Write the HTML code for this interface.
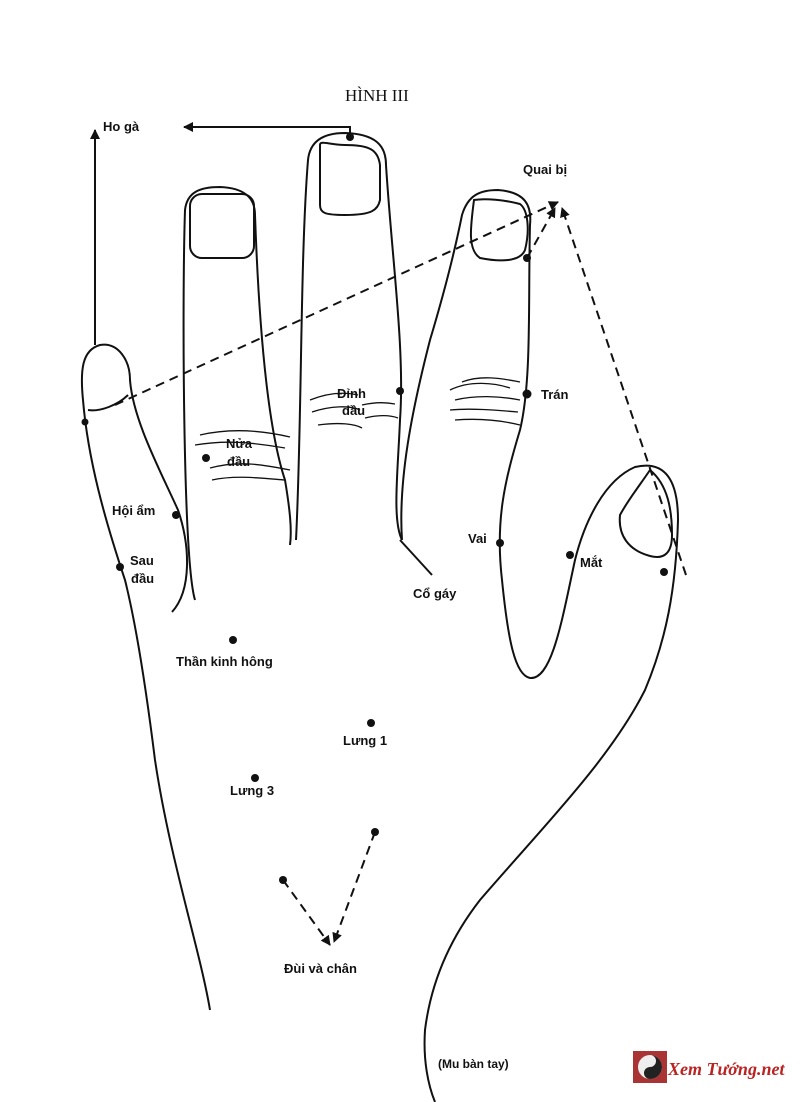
<!DOCTYPE html>
<html><head><meta charset="utf-8"><style>
body{margin:0;background:#fff}
svg{display:block}
text{font-family:"Liberation Sans",sans-serif;font-weight:bold;font-size:13px;fill:#111}
</style></head><body>
<svg width="800" height="1102" viewBox="0 0 800 1102" xmlns="http://www.w3.org/2000/svg">
<defs><marker id="a" markerWidth="10" markerHeight="10" refX="9" refY="5" orient="auto" markerUnits="userSpaceOnUse"><path d="M0,0 L10,5 L0,10 z" fill="#111"/></marker></defs>
<text x="345" y="101" style="font-family:'Liberation Serif',serif;font-size:17px;font-weight:normal">HÌNH III</text>
<g fill="none" stroke="#111" stroke-width="2">
<!-- left finger + left palm -->
<path d="M210,1010 C200,950 170,860 155,760 C145,680 135,620 125,580 C105,520 88,460 83,400 C80,370 82,350 100,345 C118,342 130,360 130,380 C133,420 160,470 178,510 C190,545 192,590 172,612"/>
<path d="M88,410 C100,412 118,405 128,395"/>
<!-- finger 2 -->
<path d="M195,600 C183,560 182,300 185,210 C187,192 200,187 220,187 C245,188 255,198 255,215 C258,300 265,420 285,480 C290,510 292,530 290,545"/>
<rect x="190" y="194" width="64" height="64" rx="12"/>
<!-- finger 3 -->
<path d="M296,540 C302,420 300,260 308,160 C310,140 325,133 345,133 C375,134 386,145 386,165 C392,260 405,350 400,420 C398,470 392,520 402,540"/>
<path d="M320,145 L320,205 C320,213 325,215 345,215 C372,215 378,210 380,200 L380,165 C378,150 370,145 345,145 C330,145 320,140 320,145 z"/>
<line x1="400" y1="540" x2="432" y2="575"/>
<!-- finger 4 + pinky + right thumb -->
<path d="M402,540 C398,480 412,410 430,340 C445,290 455,250 462,215 C468,195 480,190 498,190 C525,192 532,205 530,225 C528,300 532,380 520,430 C505,480 495,520 502,580 C508,640 515,675 530,678 C552,680 562,620 575,560 C585,520 605,480 635,467 C665,460 678,480 678,520 C676,590 666,640 645,690 C610,760 540,830 480,900 C445,945 430,990 425,1030 C423,1060 428,1085 435,1102"/>
<path d="M474,200 C470,230 468,250 480,258 C500,262 520,262 525,250 C530,230 528,210 520,204 C505,200 485,198 474,200 z"/>
<path d="M650,470 C640,485 628,500 620,515 C618,535 628,550 650,556 C665,560 672,552 672,535 C672,510 668,485 650,470 z"/>
</g>
<!-- creases -->
<g fill="none" stroke="#111" stroke-width="1.3">
<path d="M200,435 C230,428 260,430 290,437"/><path d="M195,445 C225,440 250,442 285,448"/><path d="M210,468 C240,460 265,465 290,470"/><path d="M212,480 C235,475 260,478 285,480"/>
<path d="M310,400 C330,392 345,392 358,395"/><path d="M312,412 C330,406 350,405 360,410"/><path d="M318,425 C340,422 355,424 362,428"/><path d="M362,405 C375,402 385,402 395,404"/><path d="M365,418 C378,415 390,415 398,418"/>
<path d="M450,390 C470,380 495,383 510,388"/><path d="M455,400 C475,395 500,396 520,400"/><path d="M450,410 C470,408 495,410 518,412"/><path d="M455,420 C480,418 500,420 520,425"/><path d="M462,382 C480,375 500,378 520,382"/>
</g>
<!-- solid arrows -->
<g stroke="#111" stroke-width="2" fill="none">
<path d="M350,137 L350,127 L184,127" marker-end="url(#a)"/>
<path d="M95,345 L95,130" marker-end="url(#a)"/>
</g>
<!-- dashed -->
<g stroke="#111" stroke-width="2" fill="none" stroke-dasharray="9,6">
<path d="M115,405 L558,202" marker-end="url(#a)"/>
<path d="M527,258 L555,208" marker-end="url(#a)"/>
<path d="M686,575 L562,208" marker-end="url(#a)"/>
<path d="M283,880 L330,945" marker-end="url(#a)"/>
<path d="M375,832 L334,942" marker-end="url(#a)"/>
</g>
<g fill="#111">
<circle cx="350" cy="137" r="4"/><circle cx="527" cy="258" r="4"/><circle cx="85" cy="422" r="3.5"/><circle cx="206" cy="458" r="4"/><circle cx="400" cy="391" r="4"/><circle cx="527" cy="394" r="4.5"/><circle cx="176" cy="515" r="4"/><circle cx="120" cy="567" r="4"/><circle cx="500" cy="543" r="4"/><circle cx="570" cy="555" r="4"/><circle cx="664" cy="572" r="4"/><circle cx="233" cy="640" r="4"/><circle cx="371" cy="723" r="4"/><circle cx="255" cy="778" r="4"/><circle cx="283" cy="880" r="4"/><circle cx="375" cy="832" r="4"/>
</g>
<text x="103" y="131">Ho gà</text>
<text x="523" y="174">Quai bị</text>
<text x="337" y="398">Đỉnh</text><text x="342" y="415">đầu</text>
<text x="541" y="399">Trán</text>
<text x="226" y="448">Nửa</text><text x="227" y="466">đầu</text>
<text x="112" y="515">Hội ẩm</text>
<text x="130" y="565">Sau</text><text x="131" y="583">đầu</text>
<text x="468" y="543">Vai</text>
<text x="580" y="567">Mắt</text>
<text x="413" y="598">Cổ gáy</text>
<text x="176" y="666">Thần kinh hông</text>
<text x="343" y="745">Lưng 1</text>
<text x="230" y="795">Lưng 3</text>
<text x="284" y="973">Đùi và chân</text>
<text x="438" y="1068" style="font-size:12px">(Mu bàn tay)</text>
<rect x="633" y="1051" width="34" height="32" fill="#a33"/>
<circle cx="650" cy="1067" r="12" fill="#eee"/>
<path d="M650,1055 A12,12 0 0 1 650,1079 A6,6 0 0 1 650,1067 A6,6 0 0 0 650,1055z" fill="#222"/>
<text x="668" y="1075" style="font-family:'Liberation Serif',serif;font-size:18px;font-style:italic;fill:#b22">Xem Tướng.net</text>
</svg>
</body></html>
